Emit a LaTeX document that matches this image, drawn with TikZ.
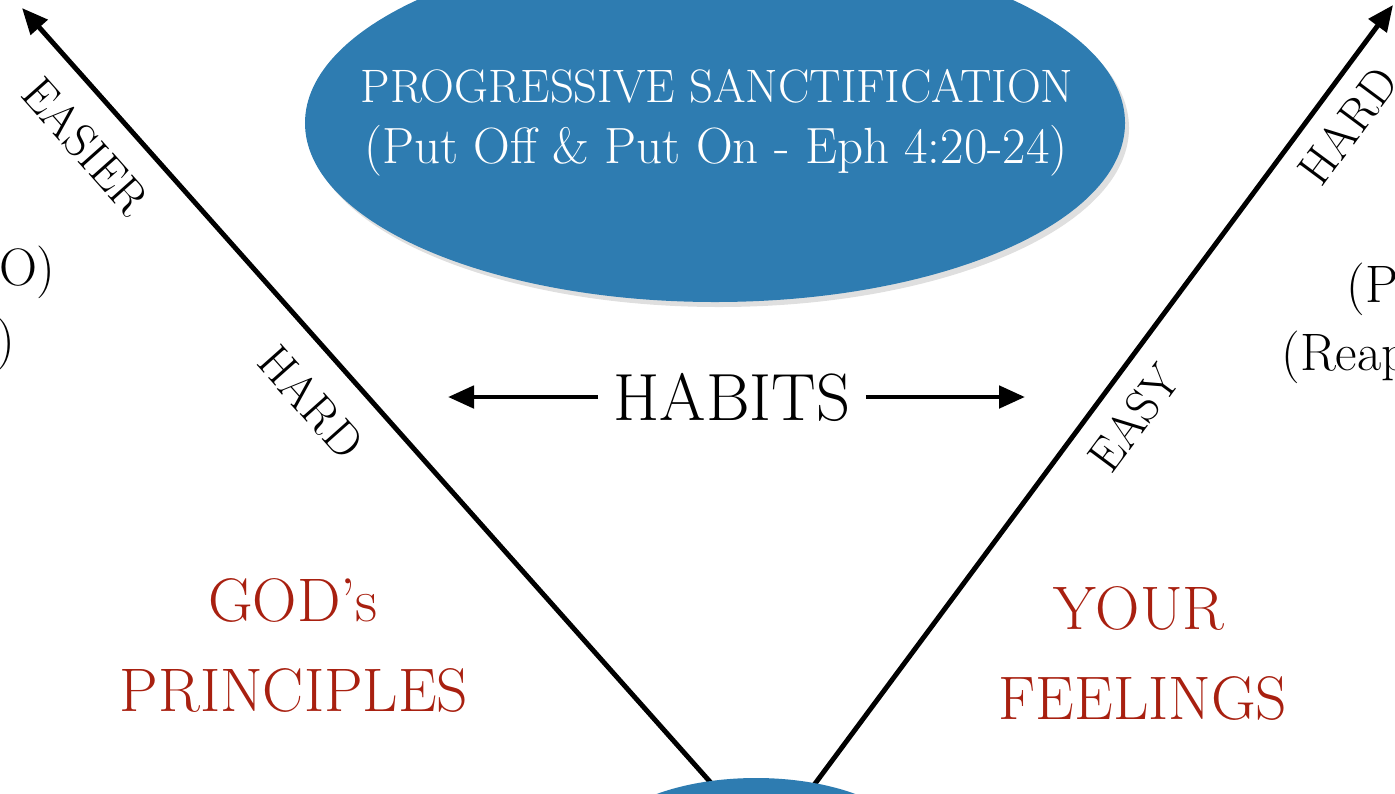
\documentclass[tikz,border=0pt]{standalone}
\usepackage{tikz}
\usetikzlibrary{shapes.geometric,arrows.meta,shadows}

\definecolor{sancblue}{HTML}{2E7CB1}
\definecolor{princred}{HTML}{A82010}

\begin{document}
\begin{tikzpicture}[x=0.2mm, y=-0.2mm,
    blob/.style={ellipse, fill=sancblue, inner sep=0pt, drop shadow={opacity=0.25, shadow xshift=0.8mm, shadow yshift=-1mm}},
    vline/.style={line width=2.8pt, -{Triangle[length=5.2mm, width=4.4mm]}},
    sidelabel/.style={font=\fontsize{27}{32}\selectfont, inner sep=0pt},
    redlabel/.style={text=princred, font=\fontsize{35}{42}\selectfont, anchor=base, inner sep=0pt},
    cutlabel/.style={font=\fontsize{30}{36}\selectfont, inner sep=0pt}]
    \useasboundingbox (0,0) rectangle (1395,793);
    \clip (0,0) rectangle (1395,793);

    % the V
    \coordinate (vtx) at (768,847);
    \coordinate (hardtip) at (22,8);
    \coordinate (easytip) at (1393,5);
    \draw[vline] (vtx) -- (hardtip);
    \draw[vline] (vtx) -- (easytip);
    \node[blob, minimum width=64mm, minimum height=29.6mm] (root) at (756,852) {};

    \node[blob, minimum width=164mm, minimum height=71.6mm] (sanct) at (715,123) {};
    \node[text=white, anchor=base, inner sep=0pt, font=\fontsize{26.7}{32}\selectfont] (sancttop) at (717,102) {PROGRESSIVE SANCTIFICATION};
    \node[text=white, anchor=base, inner sep=0pt, font=\fontsize{29}{35}\selectfont] (sanctbot) at (716,163) {(Put Off \& Put On - Eph 4:20-24)};

    % habits
    \node[font=\fontsize{38}{46}\selectfont, inner sep=3mm] (habits) at (732,397) {HABITS};
    \coordinate (habl) at (448,397);
    \coordinate (habr) at (1025,397);
    \draw[vline] (habits) -- (habl);
    \draw[vline] (habits) -- (habr);

    % along the lines
    \node[sidelabel, rotate=-48.4] (easier) at (86,146) {EASIER};
    \node[sidelabel, rotate=-48.4] (hardl) at (311,402) {HARD};
    \node[sidelabel, rotate=53.4] (easy) at (1134,418) {EASY};
    \node[sidelabel, rotate=53.4] (hardr) at (1348,126) {HARD};

    \node[redlabel] (gods) at (293,621) {GOD's};
    \node[redlabel] (princ) at (294,711) {PRINCIPLES};
    \node[redlabel] (your) at (1139,629) {YOUR};
    \node[redlabel] (feel) at (1143,719) {FEELINGS};

    % cut off at the edges
    \node[cutlabel, anchor=base east] (leftone) at (56,285) {O)};
    \node[cutlabel, anchor=base east] (lefttwo) at (16,357) {)};
    \node[cutlabel, anchor=base west] (rightone) at (1346,302) {(P};
    \node[cutlabel, anchor=base west] (righttwo) at (1281,370) {(Reap};
\end{tikzpicture}
\end{document}
